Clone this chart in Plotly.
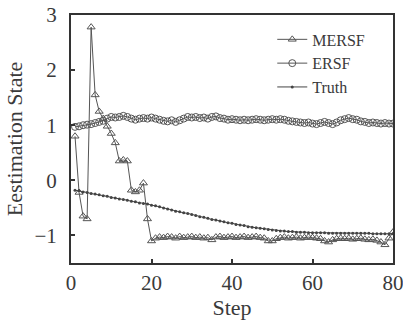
import plotly.graph_objects as go

steps = list(range(1, 81))

mersf = [0.80, -0.22, -0.65, -0.70, 2.78, 1.55, 1.25, 1.12, 0.98, 0.85,
         0.68, 0.35, 0.37, 0.35, -0.18, -0.21, -0.18, -0.05, -0.70, -1.10,
         -1.05, -1.03, -1.04, -1.02, -1.03, -1.05, -1.02, -1.04, -1.03, -1.02,
         -1.04, -1.03, -1.05, -1.04, -1.08, -1.03, -1.02, -1.04, -1.03, -1.02,
         -1.04, -1.03, -1.02, -1.04, -1.03, -1.02, -1.04, -1.05, -1.10, -1.10,
         -1.06, -1.04, -1.03, -1.05, -1.04, -1.03, -1.05, -1.04, -1.03, -1.04,
         -1.05, -1.06, -1.10, -1.12, -1.08, -1.06, -1.05, -1.06, -1.05, -1.07,
         -1.06, -1.05, -1.07, -1.08, -1.07, -1.09, -1.12, -1.17, -1.05, -0.94]

ersf = [0.97, 0.98, 1.00, 1.01, 1.02, 1.04, 1.06, 1.08, 1.12, 1.15,
        1.14, 1.15, 1.17, 1.15, 1.12, 1.10, 1.12, 1.13, 1.12, 1.14,
        1.12, 1.10, 1.08, 1.07, 1.09, 1.06, 1.09, 1.12, 1.15, 1.14,
        1.15, 1.13, 1.14, 1.12, 1.15, 1.16, 1.13, 1.12, 1.10, 1.11,
        1.10, 1.09, 1.10, 1.09, 1.10, 1.11, 1.10, 1.09, 1.10, 1.11,
        1.10, 1.11, 1.10, 1.08, 1.07, 1.06, 1.05, 1.04, 1.05, 1.03,
        1.02, 1.04, 1.06, 1.04, 1.02, 1.05, 1.09, 1.11, 1.13, 1.11,
        1.10, 1.07, 1.06, 1.04, 1.05, 1.04, 1.03, 1.04, 1.03, 1.03]

truth = [-0.18, -0.19, -0.21, -0.22, -0.24, -0.25, -0.26, -0.28, -0.29, -0.31,
         -0.32, -0.34, -0.35, -0.36, -0.38, -0.39, -0.41, -0.42, -0.43, -0.45,
         -0.46, -0.48, -0.50, -0.52, -0.54, -0.56, -0.57, -0.59, -0.60, -0.62,
         -0.64, -0.66, -0.67, -0.69, -0.71, -0.72, -0.74, -0.75, -0.77, -0.78,
         -0.80, -0.81, -0.82, -0.84, -0.85, -0.86, -0.87, -0.88, -0.89, -0.90,
         -0.91, -0.92, -0.92, -0.93, -0.93, -0.94, -0.94, -0.94, -0.95, -0.95,
         -0.95, -0.95, -0.95, -0.96, -0.96, -0.96, -0.96, -0.96, -0.96, -0.96,
         -0.96, -0.96, -0.96, -0.96, -0.97, -0.97, -0.97, -0.97, -0.97, -0.97]

x_ticks = [0, 20, 40, 60, 80]
y_ticks = [-1, 0, 1, 2, 3]

font_family = "Liberation Serif"
text_color = "#3a3a3a"

fig = go.Figure()
fig.add_trace(go.Scatter(
    x=steps, y=mersf, name="MERSF", mode="lines+markers",
    line=dict(color="#555555", width=1),
    marker=dict(symbol="triangle-up-open", size=7, color="#555555", line=dict(width=1))))
fig.add_trace(go.Scatter(
    x=steps, y=ersf, name="ERSF", mode="lines+markers",
    line=dict(color="#555555", width=1),
    marker=dict(symbol="circle-open", size=7, color="#555555", line=dict(width=1))))
fig.add_trace(go.Scatter(
    x=steps, y=truth, name="Truth", mode="lines+markers",
    line=dict(color="#444444", width=1),
    marker=dict(symbol="circle", size=3, color="#444444")))

axis_common = dict(
    showline=True, linecolor="#333333", linewidth=2, mirror=True,
    ticks="inside", ticklen=4, tickcolor="#333333", tickwidth=2,
    showgrid=False, zeroline=False, automargin=False,
    ticklabeloverflow="allow",
    tickfont=dict(family=font_family, size=21, color=text_color),
)

fig.update_layout(
    width=403, height=327,
    margin=dict(l=71, r=10, t=15, b=64),
    paper_bgcolor="white", plot_bgcolor="white",
    font=dict(family=font_family, color=text_color),
    xaxis=dict(range=[0, 80], tickvals=x_ticks, ticklabelstandoff=0,
               title=dict(text="Step", font=dict(family=font_family, size=22, color=text_color), standoff=0),
               **axis_common),
    yaxis=dict(range=[-1.5, 3], tickvals=y_ticks, ticklabelstandoff=8,
               title=dict(text="Eestimation State", font=dict(family=font_family, size=22, color=text_color), standoff=6),
               **axis_common),
    legend=dict(x=0.625, y=0.97, xanchor="left", yanchor="top",
                bgcolor="rgba(0,0,0,0)", borderwidth=0,
                font=dict(family=font_family, size=16, color=text_color),
                tracegroupgap=0, itemwidth=30),
    showlegend=True,
)

fig.write_html("out.html", config={"displayModeBar": False},
               post_script="document.body.style.margin='0px';")
